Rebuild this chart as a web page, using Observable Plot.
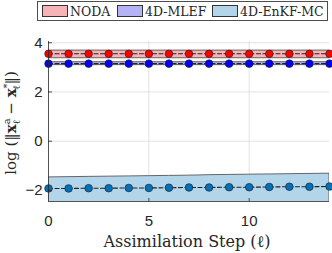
<!DOCTYPE html>
<html>
<head>
<meta charset="utf-8">
<script src="https://cdn.jsdelivr.net/npm/d3@7"></script>
<script src="https://cdn.jsdelivr.net/npm/@observablehq/plot@0.6"></script>
<style>
  html, body { margin: 0; padding: 0; background: #fff; }
  #wrap { position: relative; width: 332px; height: 253px; }
  #legend { position: absolute; left: 37px; top: 1px; width: 289px; height: 18px;
    border: 1px solid #4d4d4d; background: #fff;
    font-family: "DejaVu Serif", "Liberation Serif", serif; font-size: 12.5px; color: #262626; z-index: 2; }
  .item { position: absolute; top: 0; height: 18px; display: flex; align-items: center; white-space: nowrap; }
  .sw { width: 26px; height: 12px; border: 1px solid #333; margin-right: 2px; box-sizing: border-box; }
</style>
</head>
<body>
<div id="wrap"><div id="legend"></div><div id="chart"></div></div>
<script>
const steps = [0, 1, 2, 3, 4, 5, 6, 7, 8, 9, 10, 11, 12, 13, 14];
const seriesNames = ["NODA", "4D-MLEF", "4D-EnKF-MC"];
const fillColors = ["#f7b3b5", "#b3b3f5", "#b3d5ea"];
const dotColors = ["#ff0000", "#0000ff", "#0072bd"];

const nodaMean = [3.55, 3.55, 3.55, 3.55, 3.55, 3.55, 3.55, 3.55, 3.55, 3.55, 3.55, 3.55, 3.55, 3.55, 3.55];
const nodaLo   = [3.37, 3.37, 3.37, 3.37, 3.37, 3.37, 3.37, 3.37, 3.37, 3.37, 3.37, 3.37, 3.37, 3.37, 3.37];
const nodaHi   = [3.68, 3.68, 3.68, 3.68, 3.68, 3.68, 3.68, 3.68, 3.68, 3.68, 3.68, 3.68, 3.68, 3.68, 3.68];

const mlefMean = [3.15, 3.15, 3.15, 3.15, 3.15, 3.15, 3.15, 3.15, 3.15, 3.15, 3.15, 3.15, 3.15, 3.15, 3.15];
const mlefLo   = [3.09, 3.09, 3.09, 3.09, 3.09, 3.09, 3.09, 3.09, 3.09, 3.09, 3.09, 3.09, 3.09, 3.09, 3.09];
const mlefHi   = [3.21, 3.21, 3.21, 3.21, 3.21, 3.21, 3.21, 3.21, 3.21, 3.21, 3.21, 3.21, 3.21, 3.21, 3.21];

const enkfMean = [-1.92, -1.92, -1.91, -1.91, -1.90, -1.90, -1.89, -1.88, -1.88, -1.87, -1.87, -1.86, -1.85, -1.85, -1.84];
const enkfLo   = [-2.6, -2.6, -2.6, -2.6, -2.6, -2.6, -2.6, -2.6, -2.6, -2.6, -2.6, -2.6, -2.6, -2.6, -2.6];
const enkfHi   = [-1.47, -1.46, -1.45, -1.44, -1.43, -1.42, -1.41, -1.40, -1.38, -1.37, -1.36, -1.35, -1.34, -1.33, -1.32];

const xTicks = [0, 5, 10];
const yTicks = [-2, 0, 2, 4];

const series = [
  {name: seriesNames[0], mean: nodaMean, lo: nodaLo, hi: nodaHi},
  {name: seriesNames[1], mean: mlefMean, lo: mlefLo, hi: mlefHi},
  {name: seriesNames[2], mean: enkfMean, lo: enkfLo, hi: enkfHi}
];
const rows = series.flatMap((s, k) => steps.map((t, i) => ({step: t, name: s.name, k, mean: s.mean[i], lo: s.lo[i], hi: s.hi[i]})));

const marks = [
  Plot.gridX(xTicks.filter(d => d > 0), {stroke: "#dcdcdc", strokeOpacity: 1, strokeWidth: 0.8}),
  Plot.gridY(yTicks, {stroke: "#dcdcdc", strokeOpacity: 1, strokeWidth: 0.8})
];
series.forEach((s, k) => {
  const data = rows.filter(r => r.k === k);
  marks.push(Plot.areaY(data, {x: "step", y1: "lo", y2: "hi", fill: fillColors[k], fillOpacity: 1, stroke: "#444", strokeWidth: 0.8, clip: true}));
  marks.push(Plot.lineY(data, {x: "step", y: "mean", stroke: "#222", strokeWidth: 1.1, strokeDasharray: "4,2.5", clip: true}));
  marks.push(Plot.dot(data, {x: "step", y: "mean", r: 3.8, fill: dotColors[k], stroke: "#222", strokeWidth: 0.7}));
});
marks.push(
  Plot.ruleX(xTicks.filter(d => d > 0), {y1: -2.45, y2: -2.33, stroke: "#262626", strokeWidth: 0.8}),
  Plot.ruleY(yTicks, {x1: 0, x2: 0.2, stroke: "#262626", strokeWidth: 0.8}),
  Plot.ruleY([-2.45], {stroke: "#262626", strokeWidth: 0.8}),
  Plot.ruleX([0], {stroke: "#262626", strokeWidth: 0.8}),
  Plot.axisX({ticks: xTicks, tickSize: 0, tickPadding: 14, fontSize: 15, label: null, tickFormat: d3.format("d"), fontFamily: "Liberation Sans, Arial, sans-serif", fill: "#262626"}),
  Plot.axisY({ticks: yTicks, tickSize: 0, tickPadding: 6, fontSize: 15, label: null, tickFormat: d3.format("d"), fontFamily: "Liberation Sans, Arial, sans-serif", fill: "#262626"})
);

const chart = Plot.plot({
  width: 332, height: 253,
  marginLeft: 48, marginRight: 3, marginTop: 41, marginBottom: 52,
  x: {domain: [0, 14]},
  y: {domain: [-2.45, 4.05]},
  style: {background: "#fff", overflow: "visible"},
  marks
});
document.getElementById("chart").appendChild(chart);

const svg = d3.select(chart);
// x label
svg.append("text")
  .attr("x", 187).attr("y", 247)
  .attr("text-anchor", "middle")
  .attr("font-family", "DejaVu Serif, Liberation Serif, serif")
  .attr("font-size", 16).attr("fill", "#262626")
  .text("Assimilation Step (ℓ)");
// y label with sub/superscripts
const yl = svg.append("text")
  .attr("transform", "translate(16,123) rotate(-90)")
  .attr("text-anchor", "middle")
  .attr("font-family", "DejaVu Serif, Liberation Serif, serif")
  .attr("font-size", 15).attr("fill", "#262626");
yl.append("tspan").text("log (‖");
yl.append("tspan").attr("font-weight", "bold").text("x");
yl.append("tspan").attr("font-size", 10).attr("dy", -6).text("a");
yl.append("tspan").attr("font-size", 10).attr("dx", -6).attr("dy", 10).text("ℓ");
yl.append("tspan").attr("dy", -4).text(" − ");
yl.append("tspan").attr("font-weight", "bold").text("x");
yl.append("tspan").attr("font-size", 10).attr("dy", -6).text("*");
yl.append("tspan").attr("font-size", 10).attr("dx", -6).attr("dy", 10).text("ℓ");
yl.append("tspan").attr("dy", -4).text("‖)");

// legend
const legendLeft = [4, 79, 174];
const leg = d3.select("#legend");
seriesNames.forEach((n, k) => {
  const it = leg.append("div").attr("class", "item").style("left", legendLeft[k] + "px");
  it.append("div").attr("class", "sw").style("background", fillColors[k]);
  it.append("span").text(n);
});
</script>
</body>
</html>
